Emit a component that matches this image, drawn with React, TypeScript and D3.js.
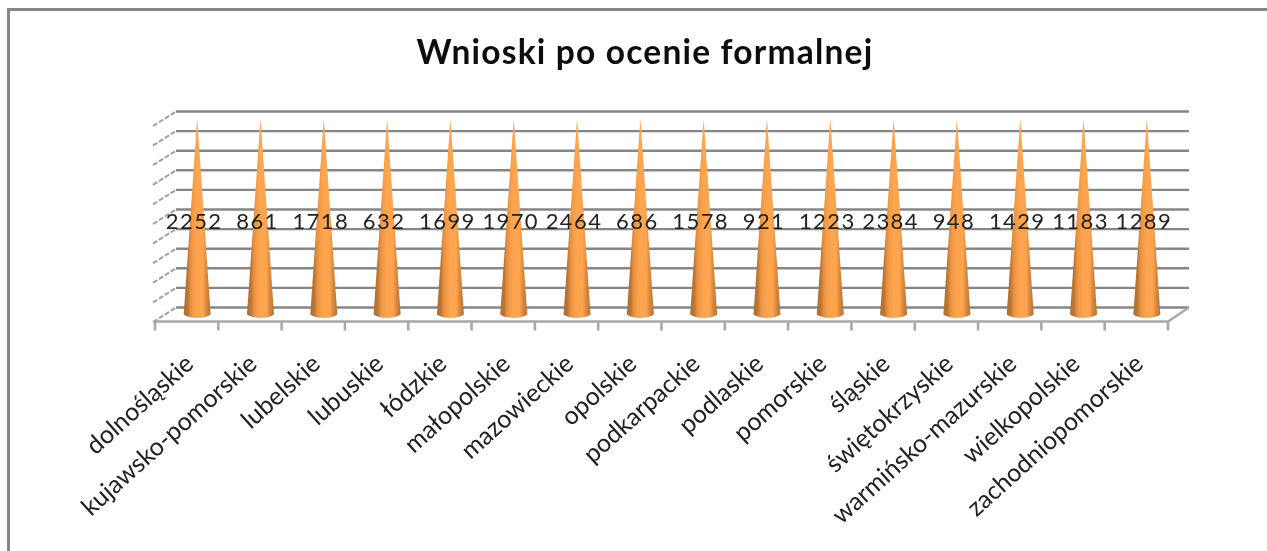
import { useEffect, useRef } from "react";
import * as d3 from "d3";

const title = "Wnioski po ocenie formalnej";
const regions = [
    "dolnośląskie", "kujawsko-pomorskie", "lubelskie", "lubuskie",
    "łódzkie", "małopolskie", "mazowieckie", "opolskie",
    "podkarpackie", "podlaskie", "pomorskie", "śląskie",
    "świętokrzyskie", "warmińsko-mazurskie", "wielkopolskie", "zachodniopomorskie",
];
const applications = [2252, 861, 1718, 632, 1699, 1970, 2464, 686, 1578, 921, 1223, 2384, 948, 1429, 1183, 1289];
const gridTicks = [0, 10, 20, 30, 40, 50, 60, 70, 80, 90, 100];

const Width = 1267;
const Height = 551;
const GREY = "#868686";
const FONT = "Lato, 'Open Sans', sans-serif";

export default function App() {
    const svgRef = useRef<SVGSVGElement>(null);

    useEffect(() => {
        const svg = d3.select(svgRef.current);
        svg.selectAll("*").remove();

        const depth = { x: 21, y: -14 };
        const xScale = d3.scaleBand<string>().domain(regions).range([155, 1168]);
        const yScale = d3.scaleLinear().domain([0, 100]).range([321.5, 125.5]);
        const step = xScale.step();

        // 100% stacked cones: every region fills the whole height
        const shares = applications.map(() => 100);

        const defs = svg.append("defs");
        const blur = defs.append("filter")
            .attr("id", "soft")
            .attr("filterUnits", "userSpaceOnUse")
            .attr("x", 0).attr("y", 0)
            .attr("width", Width).attr("height", Height);
        blur.append("feGaussianBlur").attr("stdDeviation", 0.7);

        const grad = defs.append("linearGradient").attr("id", "cone");
        [
            [0, "#ad6d33"], [0.16, "#bb7736"], [0.24, "#e48d3e"], [0.34, "#f29a45"],
            [0.5, "#ffa550"], [0.72, "#ffa34e"], [0.84, "#d9893e"], [1, "#b57234"],
        ].forEach(([o, c]) => grad.append("stop").attr("offset", o).attr("stop-color", c));

        const root = svg.append("g").attr("filter", "url(#soft)");

        // chart frame, only top and left are in the picture
        root.append("path")
            .attr("d", `M8.5,${Height + 5}V9.5H${Width + 5}`)
            .attr("fill", "none")
            .attr("stroke", GREY)
            .attr("stroke-width", 3);

        root.append("text")
            .attr("x", 645)
            .attr("y", 64)
            .attr("text-anchor", "middle")
            .attr("font-family", FONT)
            .attr("font-weight", 700)
            .attr("font-size", 33.5)
            .attr("letter-spacing", 1.2)
            .attr("fill", "#111")
            .text(title);

        const [x0, x1] = xScale.range();

        // back wall
        root.append("g").selectAll("line")
            .data(gridTicks)
            .join("line")
            .attr("x1", x0 + depth.x)
            .attr("x2", x1 + depth.x)
            .attr("y1", (d) => yScale(d) + depth.y)
            .attr("y2", (d) => yScale(d) + depth.y)
            .attr("stroke", GREY)
            .attr("stroke-width", 2.4);

        // side wall
        root.append("g").selectAll("line")
            .data(gridTicks)
            .join("line")
            .attr("x1", x0 - 2)
            .attr("x2", x0 + depth.x)
            .attr("y1", (d) => yScale(d) + 0.5)
            .attr("y2", (d) => yScale(d) + depth.y)
            .attr("stroke", "#a0a0a0")
            .attr("stroke-width", 2)
            .attr("stroke-dasharray", "5 2");

        // floor
        root.append("path")
            .attr("d", `M${x0},${yScale(0)}H${x1}L${x1 + depth.x},${yScale(0) + depth.y}`)
            .attr("fill", "none")
            .attr("stroke", "#a8a8a8")
            .attr("stroke-width", 2.4);

        root.append("g").selectAll("line")
            .data(d3.range(regions.length + 1))
            .join("line")
            .attr("x1", (i) => x0 + i * step)
            .attr("x2", (i) => x0 + i * step)
            .attr("y1", yScale(0))
            .attr("y2", yScale(0) + 9)
            .attr("stroke", "#a8a8a8")
            .attr("stroke-width", 2.6);

        // cones
        const coneX = (d: string) => (xScale(d) as number) + step / 2 + depth.x / 2;
        const coneY = (v: number) => yScale(v) + depth.y / 2;
        const baseR = 13.5;

        root.append("g").selectAll("path")
            .data(regions)
            .join("path")
            .attr("d", (d, i) => {
                const cx = coneX(d);
                const p = d3.path();
                p.moveTo(cx, coneY(shares[i]));
                p.lineTo(cx + baseR, coneY(0));
                p.bezierCurveTo(cx + baseR * 0.6, coneY(0) + 4.5, cx - baseR * 0.6, coneY(0) + 4.5, cx - baseR, coneY(0));
                p.closePath();
                return p.toString();
            })
            .attr("fill", "url(#cone)");

        // value labels
        root.append("g").selectAll("text")
            .data(applications)
            .join("text")
            .attr("x", (_, i) => coneX(regions[i]) - 3)
            .attr("y", 229)
            .attr("text-anchor", "middle")
            .attr("font-family", FONT)
            .attr("font-size", 22)
            .attr("letter-spacing", 1.4)
            .attr("fill", "#222")
            .text((d) => d);

        // region labels
        root.append("g").selectAll("text")
            .data(regions)
            .join("text")
            .attr("transform", (d) => `translate(${coneX(d) - 2},366) rotate(-42)`)
            .attr("text-anchor", "end")
            .attr("font-family", FONT)
            .attr("font-size", 25)
            .attr("fill", "#222")
            .text((d) => d);
    }, []);

    return (
        <svg
            ref={svgRef}
            width={Width}
            height={Height}
            style={{ position: "absolute", left: 0, top: 0, display: "block", background: "#fff" }}
        ></svg>
    );
}
